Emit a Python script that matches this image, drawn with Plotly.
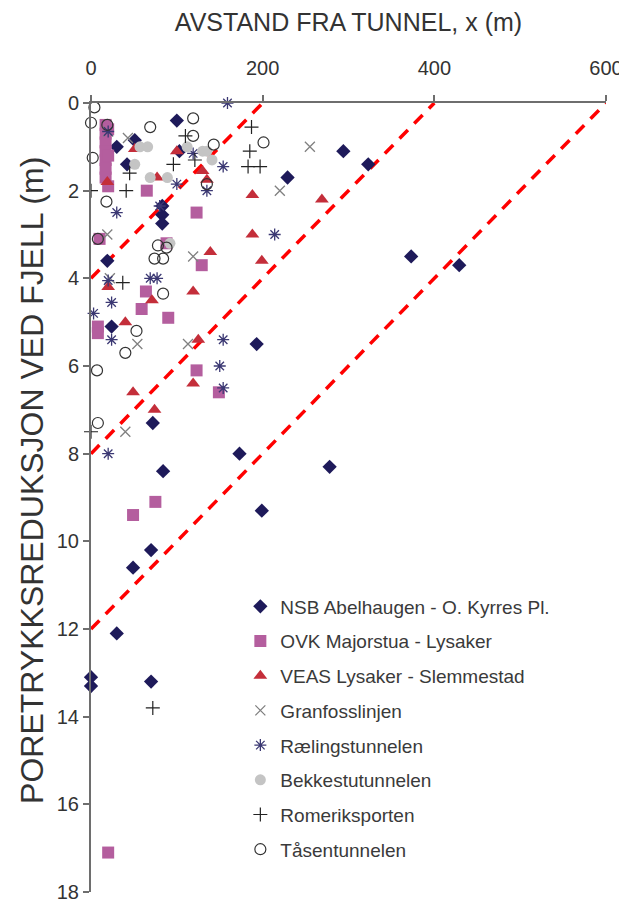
import plotly.graph_objects as go

# DATA (x = distance from tunnel in m, y = pore pressure reduction in m)
nsb_x = [100, 30, 51, 42, 103, 229, 294, 323, 373, 429, 83, 83, 83, 19, 24, 193, 72, 173, 278, 84, 199, 70, 49, 30, 0, 0, 70]
nsb_y = [0.4, 1.0, 0.85, 1.4, 1.1, 1.7, 1.1, 1.4, 3.5, 3.7, 2.35, 2.55, 2.75, 3.6, 5.1, 5.5, 7.3, 8.0, 8.3, 8.4, 9.3, 10.2, 10.6, 12.1, 13.1, 13.3, 13.2]

ovk_x = [17, 17, 17, 17, 17, 17, 17, 20, 20, 20, 65, 123, 129, 10, 88, 64, 59, 90, 8, 8, 123, 149, 49, 75, 20]
ovk_y = [0.5, 0.7, 0.9, 1.1, 1.3, 1.5, 1.7, 0.6, 1.2, 1.9, 2.0, 2.5, 3.7, 3.1, 3.2, 4.3, 4.7, 4.9, 5.1, 5.25, 6.1, 6.6, 9.4, 9.1, 17.1]

veas_x = [19, 51, 100, 77, 130, 135, 188, 269, 188, 199, 139, 119, 71, 20, 40, 125, 119, 49, 74]
veas_y = [1.8, 1.05, 1.1, 1.7, 1.55, 1.75, 2.1, 2.2, 3.0, 3.6, 3.4, 4.3, 4.5, 4.2, 5.0, 5.4, 6.4, 6.6, 7.0]

granfoss_x = [255, 220, 119, 54, 113, 40, 19, 20, 22, 43]
granfoss_y = [1.0, 2.0, 3.5, 5.5, 5.5, 7.5, 3.0, 0.65, 4.0, 0.8]

raeling_x = [159, 119, 154, 100, 135, 30, 80, 214, 20, 69, 77, 24, 3, 24, 154, 150, 154, 20, 20]
raeling_y = [0, 1.15, 1.45, 1.85, 2.0, 2.5, 2.35, 3.0, 4.05, 4.0, 4.0, 4.55, 4.8, 5.4, 5.4, 6.0, 6.5, 8.0, 0.65]

bekke_x = [57, 66, 51, 69, 112, 130, 141, 89, 92, 135]
bekke_y = [1.0, 1.0, 1.4, 1.7, 1.0, 1.1, 1.3, 1.7, 3.2, 1.1]

romerik_x = [41, 0, 45, 110, 187, 185, 183, 197, 121, 37, 72, 0, 96]
romerik_y = [2.0, 2.0, 1.6, 0.75, 0.55, 1.1, 1.45, 1.45, 1.3, 4.1, 13.8, 7.5, 1.4]

taasen_x = [4, 0, 2, 19, 69, 119, 119, 143, 201, 18, 135, 78, 88, 74, 84, 84, 53, 40, 7, 8, 8]
taasen_y = [0.1, 0.45, 1.25, 0.5, 0.55, 0.35, 0.75, 0.95, 0.9, 2.25, 1.85, 3.25, 3.3, 3.55, 3.55, 4.35, 5.2, 5.7, 6.1, 7.3, 3.1]

# 1:50 REFERENCE LINES
ref_x = [[0, 200], [0, 400], [0, 600]]
ref_y = [[4, 0], [8, 0], [12, 0]]

x_ticks = [0, 200, 400, 600]
y_ticks = [0, 2, 4, 6, 8, 10, 12, 14, 16, 18]

FONT = 'Liberation Sans, Arial, sans-serif'

fig = go.Figure()

# DASHED RED LINES
for lx, ly in zip(ref_x, ref_y):
    fig.add_trace(go.Scatter(x=lx, y=ly, mode='lines', showlegend=False, hoverinfo='skip',
                             line=dict(color='#FF0000', width=3.5, dash='12px,9px')))

series = [
    ('NSB Abelhaugen - O. Kyrres Pl.', nsb_x, nsb_y, dict(symbol='diamond', size=11, color='#1E1A5A')),
    ('OVK Majorstua - Lysaker', ovk_x, ovk_y, dict(symbol='square', size=12, color='#B45E9E')),
    ('VEAS Lysaker - Slemmestad', veas_x, veas_y, dict(symbol='triangle-up', size=12, color='#C42E3A')),
    ('Granfosslinjen', granfoss_x, granfoss_y,
     dict(symbol='x-thin-open', size=10, color='#808080', line=dict(width=1.3, color='#808080'))),
    ('Rælingstunnelen', raeling_x, raeling_y,
     dict(symbol='asterisk-open', size=10, color='#3B3873', line=dict(width=1.3, color='#3B3873'))),
    ('Bekkestutunnelen', bekke_x, bekke_y, dict(symbol='circle', size=11, color='#C4C4C4')),
    ('Romeriksporten', romerik_x, romerik_y,
     dict(symbol='cross-thin-open', size=10, color='#222222', line=dict(width=1.2, color='#222222'))),
    ('Tåsentunnelen', taasen_x, taasen_y,
     dict(symbol='circle-open', size=11, color='#333333', line=dict(width=1.2, color='#333333'))),
]

for i, (name, sx, sy, mk) in enumerate(series):
    fig.add_trace(go.Scatter(x=sx, y=sy, mode='markers', name=name, marker=mk,
                             legendgroup='g%d' % i, cliponaxis=False))

# PAGE BODY HAS AN 8 PX MARGIN, SO THE FIGURE IS 8 PX SMALLER THAN THE WINDOW
fig.update_layout(
    width=619, height=897,
    plot_bgcolor='white', paper_bgcolor='white',
    margin=dict(l=83, r=21, t=95, b=13),
    font=dict(family=FONT, color='#333333'),
    showlegend=True,
    legend=dict(x=0.29, y=0.386, xanchor='left', yanchor='top',
                font=dict(family=FONT, size=19, color='#3A3A3A'),
                bgcolor='rgba(0,0,0,0)', tracegroupgap=7, itemwidth=30),
    xaxis=dict(side='top', range=[0, 600], tickvals=x_ticks, showgrid=False, zeroline=False,
               automargin=False,
               showline=True, linecolor='#6E6E6E', linewidth=2,
               ticks='outside', ticklen=6, tickwidth=2, tickcolor='#6E6E6E',
               ticklabelstandoff=12,
               tickfont=dict(family=FONT, size=20, color='#333333'),
               title=dict(text='AVSTAND FRA TUNNEL, x (m)', standoff=24,
                          font=dict(family=FONT, size=25, color='#333333'))),
    yaxis=dict(range=[18, 0], tickvals=y_ticks, showgrid=False, zeroline=False,
               automargin=False,
               showline=True, linecolor='#6E6E6E', linewidth=2,
               ticks='outside', ticklen=6, tickwidth=2, tickcolor='#6E6E6E',
               tickfont=dict(family=FONT, size=20, color='#333333')),
)

# Y AXIS TITLE (PLACED BY HAND, SLIGHTLY ABOVE THE AXIS MIDDLE AS IN THE ORIGINAL)
fig.add_annotation(text='PORETRYKKSREDUKSJON VED FJELL (m)', textangle=-90,
                   xref='paper', yref='paper', x=-0.115, y=0.522,
                   xanchor='center', yanchor='middle', showarrow=False,
                   font=dict(family=FONT, size=32, color='#333333'))

fig.write_html("out.html")
